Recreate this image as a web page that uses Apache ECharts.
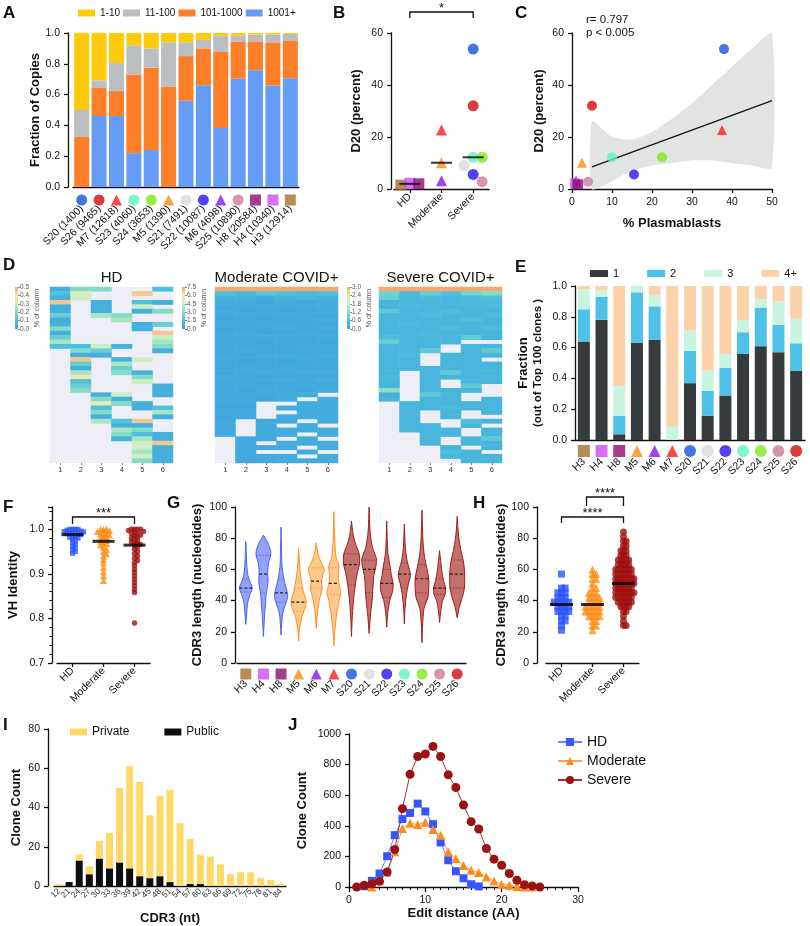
<!DOCTYPE html>
<html>
<head>
<meta charset="utf-8">
<script src="https://cdn.jsdelivr.net/npm/echarts@6/dist/echarts.min.js"></script>
<style>
  html, body { margin: 0; padding: 0; background: #fff; }
  #fig { width: 810px; height: 926px; }
</style>
</head>
<body>
<div id="fig"></div>
<script>
const FONT = '"Liberation Sans", Arial, Helvetica, sans-serif';
const AX = '#111';

// ---------- A: fraction of copies per clone-size bin
const aSamples = ['S20','S26','M7','S23','S24','M5','S21','S22','M6','S25','H8','H4','H3'];
const aCounts = [1400, 9465, 12618, 4060, 3653, 1390, 7491, 10087, 4698, 10890, 20584, 10340, 12914];
const a1001 = [0, .461, .461, .22, .24, 0, .56, .66, .383, .703, .758, .658, .706];
const a101 = [.325, .186, .162, .51, .535, .65, .29, .24, .494, .239, .188, .281, .242];
const a11 = [.175, .046, .182, .19, .125, .29, .09, .055, .106, .041, .044, .051, .046];
const a1 = [.5, .307, .195, .08, .1, .06, .06, .045, .017, .017, .01, .01, .006];

// ---------- B: D20 by group
const groups = ['HD', 'Moderate', 'Severe'];
const bSamples = [['H3','H4','H8'], ['M7','M5','M6'], ['S20','S26','S23','S24','S21','S22','S25']];
const bD20 = [[1.5, 2.2, 2.0], [22.7, 10.1, 3.2], [53.8, 32, 12.2, 12.2, 9.0, 5.6, 2.8]];

// ---------- C: D20 vs % plasmablasts
const cSamples = ['S20','S26','M7','M5','S23','S24','S22','M6','S25','H4','H8'];
const cPlasma = [38, 5, 37.5, 2.5, 10, 22.5, 15.5, 1, 4, 0.8, 1.5];
const cD20 = [53.8, 32, 22.7, 10.1, 12.2, 12.2, 5.6, 3.2, 2.8, 2.2, 1.8];
const cBandX = [5, 10, 15, 20, 25, 30, 35, 40, 45, 50];
const cBandLo = [-8, 3, 7, 9, 10, 11, 11, 10, 9, 8];
const cBandHi = [26, 20, 19, 22, 27, 33, 40, 47, 54, 62];
const cFit = [[5, 8.5], [50, 34]];

// ---------- D: heatmaps (rows top->bottom, 6 columns, null = absent)
const dCols = ['1','2','3','4','5','6'];
const dHD = [
  [0.05,0.2,0.2,null,null,0.1],[0.1,0.35,null,null,0.45,null],[0.05,0.3,null,null,null,null],
  [0.45,null,0.05,null,0.1,0.05],[0.05,null,0.05,null,0.3,null],[0.05,null,0.05,null,0.05,0.2],
  [0.15,null,0.25,0.2,null,null],[0.05,null,null,0.25,null,null],[0.05,null,null,null,0.05,0.15],
  [0.2,null,null,null,0.05,null],[0.05,null,null,null,null,0.45],[0.15,null,null,null,null,0.3],
  [0.25,null,null,null,null,0.25],[0.1,0.1,0.3,0.05,null,0.2],[null,0.2,0.15,null,null,0.05],
  [null,0.05,0.05,null,null,null],[null,0.45,null,0.05,0.3,null],[null,0.15,null,0.25,null,null],
  [null,0.05,null,0.15,null,null],[null,0.25,null,0.2,0.05,null],[null,0.4,null,null,0.2,null],
  [null,0.1,null,null,0.3,null],[null,0.15,null,null,null,0.05],[null,0.2,null,null,null,0.05],
  [null,null,0.05,0.3,null,0.05],[null,null,0.2,0.05,null,null],[null,null,0.35,0.2,0.05,null],
  [null,null,0.1,null,0.05,0.1],[null,null,0.2,null,null,0.25],[null,null,0.05,null,null,0.05],
  [null,null,0.25,0.1,0.45,null],[null,null,null,0.05,0.05,null],[null,null,null,0.25,0.2,null],
  [null,null,null,0.2,0.1,0.05],[null,null,null,0.05,0.25,0.05],[null,null,null,null,0.3,0.45],
  [null,null,null,null,0.3,0.05],[null,null,null,null,0.25,0.05],[null,null,null,null,0.3,0.05],
  [null,null,null,null,0.2,0.05]
];
const dMod = [
  [7.5,7.5,7.5,7.5,7.5,7.5],[1.5,1.2,1.8,1.5,1.2,1.5],[0.9,0.8,0.6,0.9,1.0,0.8],[0.6,0.6,0.5,0.6,0.5,0.6],
  [0.5,0.5,0.6,0.5,0.6,0.6],[0.6,0.5,0.5,0.5,0.5,0.6],[0.5,0.6,0.5,0.6,0.5,0.5],[0.5,0.5,0.5,0.5,0.6,0.6],
  [0.6,0.5,0.6,0.5,0.5,0.5],[0.5,0.5,0.5,0.6,0.5,0.6],[0.5,0.6,0.5,0.5,0.6,0.5],[0.5,0.5,0.6,0.5,0.5,0.6],
  [0.6,0.5,0.5,0.6,0.5,0.5],[0.5,0.5,0.5,0.5,0.6,0.6],[0.5,0.6,0.5,0.5,0.5,0.5],[0.5,0.5,0.6,0.6,0.5,0.6],
  [0.6,0.5,0.5,0.5,0.6,0.5],[0.5,0.5,0.5,0.5,0.5,0.6],[0.5,0.6,0.5,0.6,0.5,0.5],[0.5,0.5,0.6,0.5,0.6,0.6],
  [0.6,0.5,0.5,0.5,0.5,0.5],[0.5,0.5,0.5,0.6,0.5,0.6],[0.5,0.6,0.5,0.5,0.6,0.5],[0.5,0.5,0.6,0.5,0.5,0.6],
  [0.5,0.5,0.5,0.6,0.6,null],[0.5,0.5,0.5,0.6,null,0.6],[0.5,0.5,null,null,0.6,0.6],[0.5,0.5,null,0.6,0.6,0.6],
  [0.5,0.5,null,null,0.6,0.6],[0.5,0.5,null,0.6,0.6,0.6],[0.5,null,0.5,0.6,null,0.6],[0.5,null,0.5,null,0.6,null],
  [0.5,null,0.5,0.6,0.6,0.6],[0.5,null,0.5,0.6,null,0.6],[null,0.5,0.5,null,0.6,null],[null,0.5,null,0.6,0.6,0.6],
  [null,0.5,0.5,0.6,null,0.6],[null,0.5,null,null,0.6,null],[null,0.5,0.5,0.6,null,0.6],[null,0.5,0.5,0.6,0.6,0.6]
];
const dSev = [
  [3,3,3,3,3,3],[1.0,0.5,0.9,0.6,1.0,1.2],[0.9,0.4,0.5,0.4,0.5,0.6],[0.4,0.4,0.4,0.4,0.5,0.5],
  [0.4,0.5,0.4,0.4,0.4,0.5],[0.8,0.4,0.4,0.5,0.4,0.4],[0.4,0.4,0.5,0.4,0.4,0.5],[0.4,0.4,0.4,0.4,0.6,0.4],
  [0.4,0.5,0.4,0.4,0.4,0.4],[0.4,0.4,0.4,0.5,0.4,0.5],[0.4,0.4,0.5,0.4,0.4,0.4],[0.5,0.4,0.4,0.4,0.8,0.4],
  [0.9,0.4,0.4,0.4,null,null],[0.4,0.4,0.4,null,0.4,0.4],[0.4,0.4,0.8,null,0.4,0.8],[0.4,0.5,null,0.4,0.4,0.4],
  [0.4,0.4,null,0.4,0.4,null],[0.4,0.4,null,0.4,0.4,0.4],[0.4,0.4,0.4,0.4,0.4,0.4],[0.4,null,0.4,0.8,0.4,0.4],
  [0.5,null,0.4,0.4,0.4,0.5],[0.4,null,0.4,null,0.4,0.4],[0.4,null,0.4,null,0.8,null],[1.3,null,0.4,0.4,0.4,null],
  [0.3,null,0.8,0.4,null,null],[0.4,null,0.4,0.4,null,0.4],[null,0.4,0.4,0.4,0.4,0.4],[null,0.4,0.4,0.5,0.4,0.4],
  [null,0.4,null,0.4,null,0.4],[null,0.4,null,0.4,null,null],[null,0.4,null,null,0.6,0.4],[null,0.4,0.4,null,0.4,null],
  [null,0.4,0.4,0.4,null,0.4],[null,null,0.4,0.4,null,0.4],[null,null,0.4,null,0.4,0.8],[null,null,0.4,null,0.4,0.4],
  [null,null,null,0.4,null,0.4],[null,null,null,0.6,0.4,null],[null,null,null,0.4,0.4,0.4],[null,null,null,null,0.4,0.4]
];

// ---------- E: fraction of top-100 clones by number of samples shared
const eSamples = ['H3','H4','H8','M5','M6','M7','S20','S21','S22','S23','S24','S25','S26'];
const eOne = [.639, .78, .037, .631, .65, 0, .369, .158, .289, .559, .609, .57, .449];
const eTwo = [.21, .149, .121, .328, .218, 0, .21, .162, .18, .141, .251, .179, .179];
const eThree = [.129, .043, .192, .041, .074, .09, .132, .131, .09, .078, .054, .151, .16];
const eFour = [.022, .028, .65, 0, .058, .91, .289, .549, .441, .222, .086, .1, .212];

// ---------- F: VH identity
const fHD = [1,1,1,1,0.998,0.996,0.995,0.994,0.993,0.993,0.992,0.99,0.99,0.988,0.986,0.984,0.982,0.98,0.977,0.974,0.97,0.966,0.962,0.958,0.954,0.95,0.946];
const fMod = [1,1,1,0.997,0.995,0.993,0.99,0.99,0.987,0.985,0.982,0.98,0.978,0.975,0.973,0.97,0.968,0.965,0.96,0.955,0.95,0.945,0.94,0.932,0.925,0.915,0.905,0.895,0.885];
const fSev = [1,1,1,1,0.997,0.995,0.993,0.99,0.99,0.987,0.985,0.982,0.98,0.978,0.975,0.972,0.97,0.968,0.966,0.963,0.96,0.955,0.95,0.945,0.94,0.935,0.93,0.925,0.918,0.91,0.903,0.895,0.888,0.88,0.873,0.865,0.858,0.79];

// ---------- G: CDR3 length violins (density profile [length, relative width])
const gSamples = eSamples;
const gQ1 = [45.5, 45, 39, 33, 48, 44, 50, 45, 42, 48, 45, 44, 48];
const gMed = [48, 57, 45, 39, 52.5, 51, 63, 60, 51, 57, 54, 48, 57];
const gQ3 = [54, 69, 54, 48, 61, 61, 70, 66, 60, 64, 63, 54, 66];
const gDensity = [
  [[24.8,0],[30,0.08],[38,0.2],[44,0.5],[48,0.75],[52,0.5],[56,0.25],[62,0.12],[70,0.06],[77.8,0]],
  [[17,0],[25,0.08],[35,0.2],[45,0.35],[52,0.55],[58,0.5],[64,0.6],[70,0.88],[76,0.6],[80,0.2],[82,0]],
  [[18,0],[25,0.08],[32,0.2],[38,0.55],[43,0.78],[48,0.6],[55,0.3],[62,0.12],[72,0.06],[87,0]],
  [[14,0],[22,0.1],[30,0.4],[36,0.8],[40,0.88],[46,0.55],[52,0.35],[60,0.15],[68,0.06],[73.5,0]],
  [[22,0],[30,0.1],[40,0.35],[48,0.7],[52,0.6],[56,0.75],[60,0.95],[64,0.6],[70,0.2],[77,0]],
  [[11,0],[20,0.1],[30,0.3],[40,0.6],[45,0.8],[52,0.55],[58,0.55],[62,0.6],[68,0.25],[78,0.1],[97,0]],
  [[17,0],[28,0.08],[38,0.2],[46,0.35],[52,0.5],[58,0.7],[64,0.95],[70,0.9],[76,0.5],[82,0.2],[91,0]],
  [[19,0],[30,0.15],[40,0.35],[48,0.45],[56,0.55],[62,0.8],[67,0.85],[74,0.4],[84,0.12],[100,0]],
  [[23,0],[32,0.12],[40,0.35],[46,0.7],[51,0.75],[56,0.55],[62,0.4],[70,0.15],[80,0.06],[91,0]],
  [[25,0],[35,0.08],[44,0.25],[50,0.45],[56,0.72],[60,0.6],[66,0.3],[74,0.12],[82,0.05],[89,0]],
  [[13,0],[25,0.08],[35,0.25],[42,0.7],[48,0.8],[54,0.8],[60,0.6],[68,0.3],[78,0.12],[98,0]],
  [[26,0],[34,0.15],[40,0.35],[44,0.65],[48,0.72],[52,0.5],[56,0.35],[62,0.2],[68,0.08],[72,0]],
  [[29,0],[36,0.25],[42,0.6],[48,0.85],[54,0.88],[60,0.85],[66,0.7],[72,0.45],[80,0.2],[88,0.06],[94,0]]
];

// ---------- H: CDR3 length per clone by group
const hHD = [57,48,48,45,45,45,42,42,42,39,39,39,39,39,36,36,36,36,33,33,33,33,30,30,27,27,24,21];
const hMod = [60,57,57,54,54,51,48,48,45,45,45,42,42,42,42,39,39,39,39,36,36,36,36,36,33,33,33,33,33,30,30,30,30,27,27,24,24,21];
const hSev = [84,81,78,78,75,75,72,72,72,69,69,69,66,66,66,66,66,63,63,63,63,63,60,60,60,60,60,60,60,
  57,57,57,57,57,57,57,54,54,54,54,54,54,54,54,51,51,51,51,51,51,51,51,48,48,48,48,48,48,48,
  45,45,45,45,45,45,45,45,42,42,42,42,42,42,42,39,39,39,39,39,39,36,36,36,36,33,33,30,27,24,24];

// ---------- I: clone counts by CDR3 length
const iLen = ['12','21','24','27','30','33','36','39','42','45','48','51','54','57','60','63','66','69','72','75','78','81','84'];
const iPublic = [0, 2, 13, 6, 14, 9, 12, 9, 5, 4, 5, 2, 0, 1, 1, 0, 0, 0, 0, 0, 0, 0, 0];
const iPrivate = [1, 0, 3, 4, 9, 18, 38, 52, 48, 32, 41, 47, 32, 23, 15, 15, 11, 6, 7, 7, 4, 3, 1];

// ---------- J: edit distance distribution
const jDist = [1,2,3,4,5,6,7,8,9,10,11,12,13,14,15,16,17,18,19,20,21,22,23,24,25];
const jHD = [null,5,40,88,201,339,444,484,545,494,411,291,175,103,57,18,4,null,null,null,null,null,null,null,null];
const jMod = [null,null,0,44,98,230,383,416,409,424,376,339,230,186,140,109,94,66,39,18,11,4,0,0,null];
const jSev = [0,11,20,37,98,245,512,737,853,869,919,853,733,650,536,427,379,252,182,142,88,44,15,7,0];

// ---------- styles
const sampleColor = {
  S20:'#1652D6', S26:'#D30A0A', M7:'#FF1C1C', S23:'#5CF2C2', S24:'#7CEB1A', M5:'#FF8A12', S21:'#DADADA',
  S22:'#2B12F2', M6:'#8B14F0', S25:'#C97A9C', H8:'#8C0E6E', H4:'#CF4AF7', H3:'#A8722C'
};
const sym = s => s[0] === 'S' ? 'circle' : s[0] === 'M' ? 'triangle' : 'rect';
const groupColor = ['#2B55FF', '#FF8C14', '#A01010'];
const groupSym = ['rect', 'triangle', 'circle'];
const violinStyle = {
  H: { fill: 'rgba(120,138,245,0.8)', stroke: '#4D63EC' },
  M: { fill: 'rgba(255,190,120,0.85)', stroke: '#FF8F1F' },
  S: { fill: 'rgba(190,95,92,0.9)', stroke: '#9E1E1E' }
};
const HEAT = ['#3A9EDD', '#4FC0DC', '#84DBC6', '#CBEFC2', '#F3E6B4', '#F7A86C'];

// ---------- helpers
const grid = [], xAxis = [], yAxis = [], series = [], legend = [], visualMap = [], graphic = [];
function merge(a, b) {
  const r = Object.assign({}, a);
  for (const k in b) {
    const v = b[k];
    r[k] = (v && typeof v === 'object' && !Array.isArray(v) && a[k] && typeof a[k] === 'object') ? Object.assign({}, a[k], v) : v;
  }
  return r;
}
function axisBase(gi) {
  return {
    gridIndex: gi,
    axisLine: { show: true, lineStyle: { color: AX, width: 1.3 } },
    axisTick: { show: true, length: 4, lineStyle: { color: AX, width: 1.3 } },
    splitLine: { show: false },
    axisLabel: { color: AX, fontSize: 10.5, fontFamily: FONT },
    nameTextStyle: { color: AX, fontSize: 13, fontWeight: 'bold', fontFamily: FONT }
  };
}
function G(left, top, width, height, extra) {
  grid.push(Object.assign({ left, top, width, height, containLabel: false, outerBoundsMode: 'none' }, extra || {}));
  return grid.length - 1;
}
function X(gi, o) { xAxis.push(merge(axisBase(gi), o)); return xAxis.length - 1; }
function Y(gi, o) { yAxis.push(merge(axisBase(gi), o)); return yAxis.length - 1; }
function S(s) { series.push(s); return series.length - 1; }
function median(a) {
  const s = [...a].sort((p, q) => p - q), n = s.length;
  return n % 2 ? s[(n - 1) / 2] : (s[n / 2 - 1] + s[n / 2]) / 2;
}
// horizontal offsets (px) so points of a dot plot do not sit on top of each other
function swarm(vals, pxPerUnit, d) {
  const order = vals.map((v, i) => i).sort((p, q) => vals[q] - vals[p]);
  const placed = [], off = [];
  order.forEach(i => {
    const y = vals[i] * pxPerUnit;
    let dx = 0;
    for (let k = 0; k < 80; k++) {
      dx = k === 0 ? 0 : (k % 2 ? 1 : -1) * Math.ceil(k / 2) * d;
      if (!placed.some(p => (p[0] - dx) ** 2 + (p[1] - y) ** 2 < d * d * 0.999)) break;
    }
    placed.push([dx, y]);
    off[i] = dx;
  });
  return off;
}
const catX = (left, width, n, i) => left + (i + 0.5) * width / n;
function text(t, x, y, o) {
  graphic.push({ type: 'text', x, y, silent: true,
    style: Object.assign({ text: t, fill: AX, fontSize: 12, fontFamily: FONT }, o || {}) });
}
function bracket(x1, x2, yTop, leg, stars) {
  graphic.push({ type: 'polyline', silent: true,
    shape: { points: [[x1, yTop + leg], [x1, yTop], [x2, yTop], [x2, yTop + leg]] },
    style: { stroke: AX, lineWidth: 1.3, fill: null } });
  text(stars, (x1 + x2) / 2, yTop + 3, { fontSize: 13, align: 'center', verticalAlign: 'bottom' });
}
function markerRow(xi, yi, samples, size, dy) {
  S({ type: 'scatter', xAxisIndex: xi, yAxisIndex: yi, clip: false, symbolSize: size, symbolOffset: [0, dy], z: 4,
    data: samples.map((s, i) => ({ value: [i, 0], symbol: sym(s), itemStyle: { color: sampleColor[s] } })) });
}
function dotGroups(xi, yi, lists, pxPerUnit, dList, size, colors, syms, symsPerPoint, medW) {
  lists.forEach((vals, g) => {
    const off = swarm(vals, pxPerUnit, dList[g]);
    S({ type: 'scatter', xAxisIndex: xi, yAxisIndex: yi, clip: false, z: 3,
      data: vals.map((v, i) => ({
        value: [g, v], symbolOffset: [off[i], 0],
        symbol: symsPerPoint ? sym(symsPerPoint[g][i]) : syms[g],
        symbolSize: Array.isArray(size) ? size[g] : size,
        itemStyle: { color: symsPerPoint ? sampleColor[symsPerPoint[g][i]] : colors[g] }
      })) });
    S({ type: 'scatter', xAxisIndex: xi, yAxisIndex: yi, clip: false, z: 6, symbol: 'rect', symbolSize: medW,
      itemStyle: { color: '#000' }, data: [[g, median(vals)]] });
  });
}

// ================= A
const gA = G(73, 33, 226, 154);
const xA = X(gA, { type: 'category', data: aSamples.map((s, i) => s + ' (' + aCounts[i] + ')'),
  axisTick: { show: false }, axisLabel: { rotate: 45, fontSize: 10.5, margin: 20, interval: 0 } });
const yA = Y(gA, { type: 'value', min: 0, max: 1, interval: 0.2, offset: 5,
  axisLabel: { formatter: v => v.toFixed(1) }, name: 'Fraction of Copies', nameLocation: 'middle', nameGap: 26 });
[['1001+', a1001, '#649CF8'], ['101-1000', a101, '#FF7E2A'], ['11-100', a11, '#BABEC0'], ['1-10', a1, '#FFCA0A']]
  .forEach(([n, d, c]) => S({ type: 'bar', name: n, stack: 'A', xAxisIndex: xA, yAxisIndex: yA, data: d, barWidth: 15, itemStyle: { color: c } }));
markerRow(xA, yA, aSamples, 11, 13);
legend.push({ left: 78, top: 8, padding: 0, itemWidth: 17, itemHeight: 7, itemGap: 3, icon: 'rect', selectedMode: false,
  textStyle: { fontSize: 10, color: AX, fontFamily: FONT }, data: ['1-10', '11-100', '101-1000', '1001+'] });

// ================= B
const gB = G(394, 33, 95, 156);
const xB = X(gB, { type: 'category', data: groups, axisTick: { alignWithLabel: true }, axisLabel: { rotate: 45, margin: 6, interval: 0 } });
const yB = Y(gB, { type: 'value', min: 0, max: 60, interval: 20, offset: 3, name: 'D20 (percent)', nameLocation: 'middle', nameGap: 28 });
dotGroups(xB, yB, bD20, 156 / 60, [9, 9, 9], 11, null, null, bSamples, [21, 2]);
bracket(catX(394, 95, 3, 0), catX(394, 95, 3, 2), 12, 6, '*');

// ================= C
const gC = G(572, 33, 200, 156);
const xC = X(gC, { type: 'value', min: 0, max: 50, interval: 10, name: '% Plasmablasts', nameLocation: 'middle', nameGap: 28 });
const yC = Y(gC, { type: 'value', min: 0, max: 60, interval: 20, name: 'D20 (percent)', nameLocation: 'middle', nameGap: 26 });
S({ type: 'custom', xAxisIndex: xC, yAxisIndex: yC, silent: true, z: 1, encode: { x: 0, y: 1 },
  data: [[cBandX[0], cBandLo[0]]],
  renderItem: function (params, api) {
    const clampY = v => Math.min(60, Math.max(0, v));
    const top = cBandX.map((x, i) => api.coord([x, clampY(cBandHi[i])]));
    const bot = cBandX.map((x, i) => api.coord([x, clampY(cBandLo[i])])).reverse();
    return { type: 'polygon', shape: { points: top.concat(bot), smooth: 0.2 }, style: { fill: '#E2E4E4' } };
  } });
S({ type: 'line', xAxisIndex: xC, yAxisIndex: yC, symbol: 'none', lineStyle: { color: AX, width: 1.2 }, data: cFit, z: 3 });
S({ type: 'scatter', xAxisIndex: xC, yAxisIndex: yC, clip: false, symbolSize: 10, z: 4,
  data: cSamples.map((s, i) => ({ value: [cPlasma[i], cD20[i]], symbol: sym(s), itemStyle: { color: sampleColor[s] } })) });
text('r= 0.797', 586, 14, { fontSize: 11.5 });
text('p < 0.005', 586, 27, { fontSize: 11.5 });

// ================= D
[[dHD, 0.5, 0.1, 50, 15, 'HD'], [dMod, 7.5, 1.5, 215, 182, 'Moderate COVID+'], [dSev, 3.0, 0.6, 379, 347, 'Severe COVID+']]
  .forEach(([rows, max, step, left, cbLeft, title]) => {
    const gi = G(left, 287, 123, 176, { show: true, backgroundColor: '#EEEEF6', borderWidth: 0 });
    const xi = X(gi, { type: 'category', data: dCols, axisLine: { show: false },
      axisTick: { show: true, length: 2, alignWithLabel: true, lineStyle: { color: '#666', width: 0.8 } },
      axisLabel: { fontSize: 7.5, color: '#333', margin: 3 } });
    const yi = Y(gi, { type: 'category', data: rows.map((r, i) => String(i)), inverse: true, show: false });
    const data = [];
    rows.forEach((r, ri) => r.forEach((v, ci) => { if (v !== null) data.push([ci, ri, v]); }));
    const si = S({ type: 'heatmap', xAxisIndex: xi, yAxisIndex: yi, data });
    visualMap.push({ type: 'continuous', show: false, seriesIndex: si, dimension: 2, min: 0, max, inRange: { color: HEAT } });
    // colour bar
    const gc = G(cbLeft, 287, 3, 42);
    const xc = X(gc, { type: 'category', data: [''], show: false });
    const yc = Y(gc, { type: 'value', min: 0, max, interval: step, position: 'right',
      axisLine: { show: false }, axisTick: { length: 2, lineStyle: { color: '#666', width: 0.8 } },
      axisLabel: { fontSize: 6.5, color: '#555', margin: 2, formatter: v => v.toFixed(1) },
      name: '% of column', nameLocation: 'middle', nameRotate: 90, nameGap: 16,
      nameTextStyle: { fontSize: 7, fontWeight: 'normal', color: '#555' } });
    S({ type: 'bar', xAxisIndex: xc, yAxisIndex: yc, data: [max], barWidth: '100%', silent: true,
      itemStyle: { color: new echarts.graphic.LinearGradient(0, 0, 0, 1,
        HEAT.slice().reverse().map((c, i) => ({ offset: i / (HEAT.length - 1), color: c }))) } });
    text(title, left + 61.5, 285, { fontSize: 15, align: 'center', verticalAlign: 'bottom' });
  });

// ================= E
const gE = G(575, 286, 230, 154);
const xE = X(gE, { type: 'category', data: eSamples, axisTick: { show: false }, axisLabel: { rotate: 45, fontSize: 10.5, margin: 20, interval: 0 } });
const yE = Y(gE, { type: 'value', min: 0, max: 1, interval: 0.2, axisLabel: { formatter: v => v.toFixed(1) },
  name: '{b|Fraction}\n{n|(out of Top 100 clones )}', nameLocation: 'middle', nameGap: 30,
  nameTextStyle: { rich: { b: { fontSize: 13, fontWeight: 'bold', fontFamily: FONT, color: AX, lineHeight: 15 },
    n: { fontSize: 11.5, fontFamily: FONT, color: AX, lineHeight: 14 } } } });
[['1', eOne, '#363B3E'], ['2', eTwo, '#4EC1E8'], ['3', eThree, '#C8F4E0'], ['4+', eFour, '#FBD2AA']]
  .forEach(([n, d, c]) => S({ type: 'bar', name: n, stack: 'E', xAxisIndex: xE, yAxisIndex: yE, data: d, barWidth: 12, itemStyle: { color: c } }));
markerRow(xE, yE, eSamples, 12, 11);
legend.push({ left: 590, top: 268, padding: 0, width: 220, itemWidth: 18, itemHeight: 7, itemGap: 28, icon: 'rect', selectedMode: false,
  textStyle: { fontSize: 11, color: AX, fontFamily: FONT }, data: ['1', '2', '3', '4+'] });

// ================= F
const gF = G(57, 507, 93, 156);
const xF = X(gF, { type: 'category', data: groups, axisTick: { alignWithLabel: true }, axisLabel: { rotate: 45, margin: 6, interval: 0 } });
const yF = Y(gF, { type: 'value', min: 0.7, max: 1.05, interval: 0.1, offset: 5,
  minorTick: { show: true, splitNumber: 5, length: 2.5, lineStyle: { color: AX, width: 1 } },
  axisLabel: { formatter: v => (v > 1.0001 ? '' : v.toFixed(1)) },
  name: 'VH Identity', nameLocation: 'middle', nameGap: 32 });
dotGroups(xF, yF, [fHD, fMod, fSev], 156 / 0.35, [2.8, 3, 3], [5, 7, 5.5], groupColor, groupSym, null, [22, 3]);
bracket(catX(57, 93, 3, 0), catX(57, 93, 3, 2), 517, 7, '***');

// ================= G
const gG = G(237, 507, 229, 156);
const xG = X(gG, { type: 'category', data: gSamples, axisTick: { show: false }, axisLabel: { rotate: 45, fontSize: 10.5, margin: 19, interval: 0 } });
const yG = Y(gG, { type: 'value', min: 0, max: 100, interval: 20, offset: 2,
  name: 'CDR3 length (nucleotides)', nameLocation: 'middle', nameGap: 31 });
S({ type: 'custom', xAxisIndex: xG, yAxisIndex: yG, encode: { x: 0, y: 1 },
  data: gSamples.map((s, i) => [i, gMed[i]]),
  renderItem: function (params, api) {
    const k = params.dataIndex;
    const prof = gDensity[k];
    const cx = api.coord([k, 0])[0];
    const st = violinStyle[gSamples[k][0]];
    const half = 8.5;
    const pts = [];
    prof.forEach(p => pts.push([cx + p[1] * half, api.coord([k, p[0]])[1]]));
    for (let j = prof.length - 1; j >= 0; j--) pts.push([cx - prof[j][1] * half, api.coord([k, prof[j][0]])[1]]);
    const widthAt = v => {
      for (let j = 1; j < prof.length; j++) if (v <= prof[j][0]) {
        const a = prof[j - 1], b = prof[j];
        return (a[1] + (b[1] - a[1]) * (v - a[0]) / (b[0] - a[0])) * half;
      }
      return 0;
    };
    const hl = (v, stroke, lw, dash) => {
      const y = api.coord([k, v])[1], w = widthAt(v);
      return { type: 'line', shape: { x1: cx - w, y1: y, x2: cx + w, y2: y }, style: { stroke, lineWidth: lw, lineDash: dash } };
    };
    return { type: 'group', children: [
      { type: 'polygon', shape: { points: pts, smooth: 0.3 }, style: { fill: st.fill, stroke: st.stroke, lineWidth: 1 } },
      hl(gQ1[k], st.stroke, 0.8, [1.5, 1.5]),
      hl(gQ3[k], st.stroke, 0.8, [1.5, 1.5]),
      hl(gMed[k], '#222', 1.2, [3, 2])
    ] };
  } });
markerRow(xG, yG, gSamples, 11, 11);

// ================= H
const gH = G(546, 507, 93, 156);
const xH = X(gH, { type: 'category', data: groups, axisTick: { alignWithLabel: true }, axisLabel: { rotate: 45, margin: 6, interval: 0 } });
const yH = Y(gH, { type: 'value', min: 0, max: 100, interval: 20, offset: 9,
  name: 'CDR3 length (nucleotides)', nameLocation: 'middle', nameGap: 27 });
dotGroups(xH, yH, [hHD, hMod, hSev], 1.56, [3.6, 3.6, 2.6], [7, 8, 7], groupColor, groupSym, null, [23, 3]);
bracket(catX(546, 93, 3, 1) - 6, catX(546, 93, 3, 2), 497, 9, '****');
bracket(catX(546, 93, 3, 0), catX(546, 93, 3, 2), 517, 6, '****');

// ================= I
const gI = G(54, 729, 232, 157);
const xI = X(gI, { type: 'category', data: iLen, axisTick: { show: false },
  axisLabel: { rotate: 45, fontSize: 8.5, margin: 4, interval: 0, color: '#333' },
  name: 'CDR3 (nt)', nameLocation: 'middle', nameGap: 26 });
const yI = Y(gI, { type: 'value', min: 0, max: 80, interval: 20, offset: 6, name: 'Clone Count', nameLocation: 'middle', nameGap: 25 });
S({ type: 'bar', name: 'Public', stack: 'I', xAxisIndex: xI, yAxisIndex: yI, data: iPublic, barWidth: 7, itemStyle: { color: '#0D0D0D' } });
S({ type: 'bar', name: 'Private', stack: 'I', xAxisIndex: xI, yAxisIndex: yI, data: iPrivate, barWidth: 7, itemStyle: { color: '#FFD965' } });
legend.push({ left: 70, top: 726, padding: 0, itemWidth: 17, itemHeight: 7, itemGap: 35, icon: 'rect', selectedMode: false,
  textStyle: { fontSize: 12, color: AX, fontFamily: FONT }, data: ['Private', 'Public'] });

// ================= J
const gJ = G(349, 734, 229, 153);
const xJ = X(gJ, { type: 'value', min: 0, max: 30, interval: 10,
  axisTick: { length: 5 }, minorTick: { show: true, splitNumber: 10, length: 3, lineStyle: { color: AX, width: 1 } },
  name: 'Edit distance (AA)', nameLocation: 'middle', nameGap: 19 });
const yJ = Y(gJ, { type: 'value', min: 0, max: 1000, interval: 200, axisLabel: { formatter: v => String(v) },
  name: 'Clone Count', nameLocation: 'middle', nameGap: 40 });
[['HD', jHD, '#3556FF', '#6A80FF', 'rect', 8], ['Moderate', jMod, '#FF8C1A', '#FFA04A', 'triangle', 9], ['Severe', jSev, '#9A1212', '#A83030', 'circle', 9]]
  .forEach(([n, vals, c, lc, s, size]) => S({ type: 'line', name: n, xAxisIndex: xJ, yAxisIndex: yJ, symbol: s, symbolSize: size,
    itemStyle: { color: c }, lineStyle: { color: lc, width: 1 },
    data: jDist.map((x, i) => [x, vals[i]]).filter(p => p[1] !== null) }));
legend.push({ left: 557, top: 735, padding: 0, orient: 'vertical', itemWidth: 24, itemHeight: 10, itemGap: 5, selectedMode: false,
  textStyle: { fontSize: 14, color: AX, fontFamily: FONT }, data: ['HD', 'Moderate', 'Severe'] });

// ================= panel letters
[['A', 3, 5], ['B', 333, 5], ['C', 515, 5], ['D', 3, 257], ['E', 515, 259], ['F', 3, 499],
 ['G', 167, 495], ['H', 473, 495], ['I', 3, 717], ['J', 288, 717]]
  .forEach(([t, x, y]) => text(t, x, y, { fontSize: 17, fontWeight: 'bold', verticalAlign: 'top' }));

const chart = echarts.init(document.getElementById('fig'));
chart.setOption({
  animation: false,
  backgroundColor: '#fff',
  textStyle: { fontFamily: FONT, color: AX },
  grid, xAxis, yAxis, series, legend, visualMap,
  graphic: { elements: graphic }
});
</script>
</body>
</html>
